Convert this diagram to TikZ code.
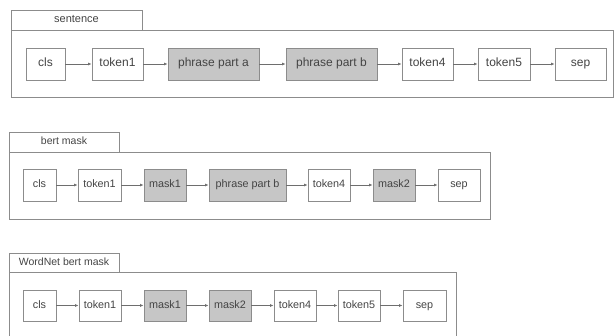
\documentclass[tikz,border=0pt]{standalone}
\usepackage{fontspec}
\setmainfont{Liberation Sans}
\usetikzlibrary{arrows.meta}
\definecolor{bordc}{HTML}{8C8C8C}
\definecolor{fillc}{HTML}{C6C6C6}
\definecolor{arrc}{HTML}{6E6E6E}
\definecolor{txtc}{HTML}{444444}
\begin{document}
\begin{tikzpicture}[x=1pt,y=-1pt,
  tok/.style={draw=bordc, line width=0.9pt, fill=white, inner sep=0pt, text=txtc, text height=0.72em, text depth=0.2em},
  tokA/.style={tok, font=\fontsize{12}{12}\selectfont, minimum height=32pt},
  tokB/.style={tok, font=\fontsize{10.8}{11}\selectfont, minimum height=32pt},
  tokC/.style={tok, font=\fontsize{10.8}{11}\selectfont, minimum height=31pt},
  shaded/.style={fill=fillc},
  panel/.style={draw=bordc, line width=0.9pt},
  tabA/.style={draw=bordc, line width=0.9pt, fill=white, inner sep=0pt, text=txtc, text height=0.72em, text depth=0.2em, font=\fontsize{11}{11}\selectfont},
  tabB/.style={draw=bordc, line width=0.9pt, fill=white, inner sep=0pt, text=txtc, text height=0.72em, text depth=0.2em, font=\fontsize{10.5}{11}\selectfont},
  arr/.style={draw=arrc, line width=0.8pt, -{Latex[length=3.5pt,width=3pt]}}
]
\useasboundingbox (0,0) rectangle (614,336);
\fill[white] (0,0) rectangle (614,336);

% ---------- panel 1: sentence ----------
\draw[panel] (11,30) rectangle (613,97);
\node[tabA, minimum width=131pt, minimum height=20pt] (tab1) at (76.5,20) {sentence};
\node[tokA, minimum width=39pt] (a1) at (45.5,64) {cls};
\node[tokA, minimum width=51pt] (a2) at (117.5,64) {token1};
\node[tokA, shaded, minimum width=91pt] (a3) at (213.5,64) {phrase part a};
\node[tokA, shaded, minimum width=91pt] (a4) at (331.5,64) {phrase part b};
\node[tokA, minimum width=51pt] (a5) at (427.5,64) {token4};
\node[tokA, minimum width=52pt] (a6) at (504,64) {token5};
\node[tokA, minimum width=51pt] (a7) at (580.5,64) {sep};
\foreach \i/\j in {a1/a2,a2/a3,a3/a4,a4/a5,a5/a6,a6/a7}{\draw[arr] (\i) -- (\j);}

% ---------- panel 2: bert mask ----------
\draw[panel] (9,152) rectangle (490,219);
\node[tabB, minimum width=110pt, minimum height=20pt] (tab2) at (64,142) {bert mask};
\node[tokB, minimum width=33pt] (b1) at (39.5,185) {cls};
\node[tokB, minimum width=43pt] (b2) at (99.5,185) {token1};
\node[tokB, shaded, minimum width=42pt] (b3) at (165,185) {mask1};
\node[tokB, shaded, minimum width=77pt] (b4) at (247.5,185) {phrase part b};
\node[tokB, minimum width=42pt] (b5) at (329,185) {token4};
\node[tokB, shaded, minimum width=42pt] (b6) at (394,185) {mask2};
\node[tokB, minimum width=42pt] (b7) at (459,185) {sep};
\foreach \i/\j in {b1/b2,b2/b3,b3/b4,b4/b5,b5/b6,b6/b7}{\draw[arr] (\i) -- (\j);}

% ---------- panel 3: WordNet bert mask (cut off at the bottom) ----------
\draw[panel] (9,337) -- (9,272) -- (456,272) -- (456,337);
\node[tabB, minimum width=110pt, minimum height=19pt] (tab3) at (64,262.5) {WordNet bert mask};
\node[tokC, minimum width=33pt] (c1) at (39.5,305.5) {cls};
\node[tokC, minimum width=42pt] (c2) at (100,305.5) {token1};
\node[tokC, shaded, minimum width=42pt] (c3) at (165,305.5) {mask1};
\node[tokC, shaded, minimum width=42pt] (c4) at (230,305.5) {mask2};
\node[tokC, minimum width=42pt] (c5) at (295,305.5) {token4};
\node[tokC, minimum width=42pt] (c6) at (359,305.5) {token5};
\node[tokC, minimum width=43pt] (c7) at (424.5,305.5) {sep};
\foreach \i/\j in {c1/c2,c2/c3,c3/c4,c4/c5,c5/c6,c6/c7}{\draw[arr] (\i) -- (\j);}
\end{tikzpicture}
\end{document}
